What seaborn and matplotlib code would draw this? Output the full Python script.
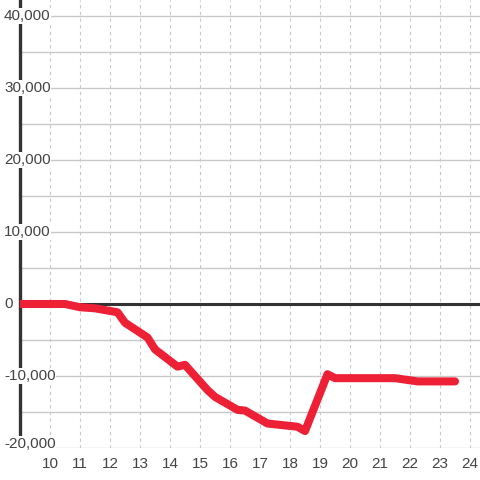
import pandas as pd
import seaborn as sns
import matplotlib.pyplot as plt
import matplotlib.transforms as mtransforms

# valores
hours = [9, 10.5, 11, 11.5, 12.25, 12.5, 13.25, 13.5, 14.25, 14.5, 15.25, 15.5,
         16.25, 16.5, 17.25, 18.25, 18.5, 19.25, 19.5, 20.5, 21.5, 22.25, 23.5]
values = [0, 0, -450, -600, -1150, -2600, -4650, -6300, -8700, -8450, -11950, -12900,
          -14700, -14800, -16600, -17050, -17650, -9750, -10300, -10300, -10300, -10750, -10750]

x_ticks = list(range(10, 25))
y_grid = list(range(-20000, 40001, 5000))
y_labels = [-20000, -10000, 0, 10000, 20000, 30000, 40000]

df = pd.DataFrame({'hour': hours, 'value': values})

sns.set_style("white")
plt.rcParams['font.family'] = ['Liberation Sans', 'DejaVu Sans']

fig = plt.figure(figsize=(4.8, 4.8), dpi=100)
ax = fig.add_axes([20 / 480, 32 / 480, 460 / 480, 448 / 480])

sns.lineplot(data=df, x='hour', y='value', ax=ax, color='#ee2036', linewidth=5.8, zorder=4)
ax.axhline(0, color='#333333', linewidth=2.2, zorder=3)

ax.set_xlim(9, 9 + 460 / 30)
ax.set_ylim(-20000, 304 / 72 * 10000)

ax.set_xticks(x_ticks)
ax.set_yticks(y_grid)
ax.set_yticklabels([])
ax.tick_params(axis='x', length=0, pad=6.5, labelsize=11, labelcolor='#444444')
ax.tick_params(axis='y', length=0)
ax.xaxis.grid(True, color='#c8c8c8', linestyle=(0, (3, 3)), linewidth=0.8)
ax.yaxis.grid(True, color='#c8c8c8', linestyle='-', linewidth=1)
ax.set_xlabel('')
ax.set_ylabel('')

for side in ['top', 'right', 'bottom']:
    ax.spines[side].set_visible(False)
ax.spines['left'].set_color('#333333')
ax.spines['left'].set_linewidth(2.4)

# etiquetas del eje y encima de la linea del eje, con fondo blanco
trans = mtransforms.blended_transform_factory(ax.transAxes, ax.transData)
for v in y_labels:
    ax.text(-16 / 460, v, f'{v:,}', transform=trans, ha='left',
            va='baseline' if v == min(y_labels) else 'center',
            fontsize=11, color='#444444', zorder=6, clip_on=False,
            bbox=dict(facecolor='white', edgecolor='none', pad=0.5))

plt.savefig("out.png", dpi=100)
